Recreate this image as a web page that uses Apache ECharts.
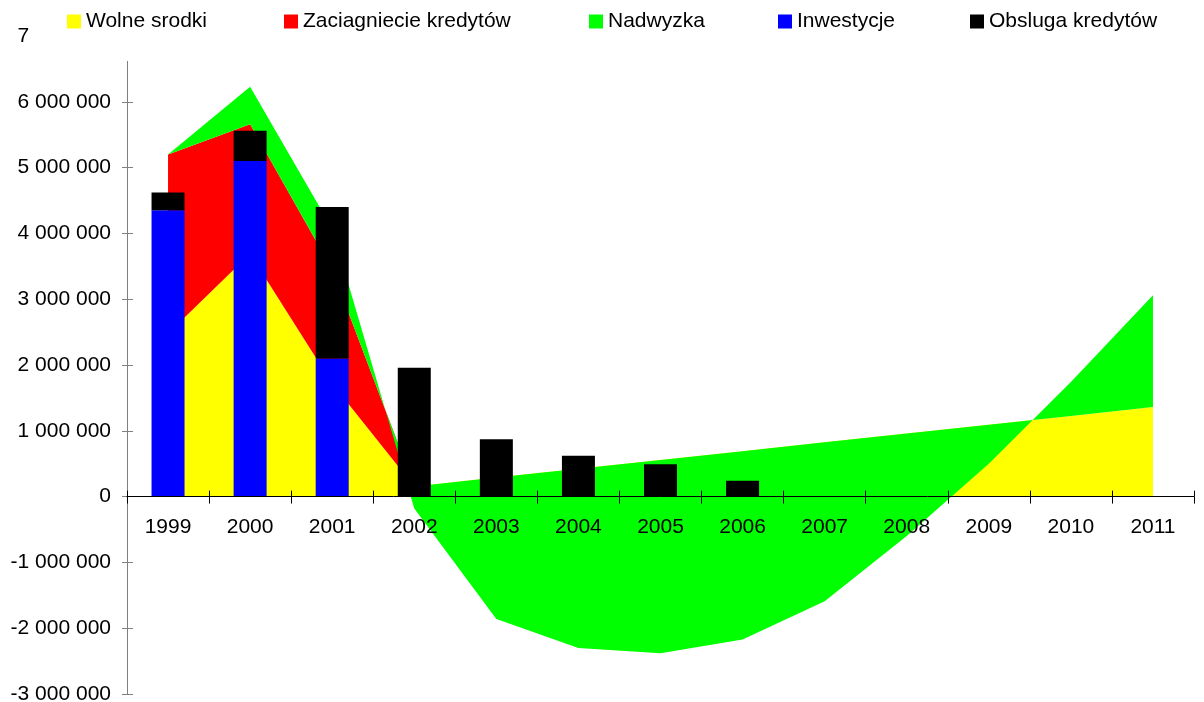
<!DOCTYPE html>
<html>
<head>
<meta charset="utf-8">
<script src="https://cdn.jsdelivr.net/npm/echarts@6/dist/echarts.min.js"></script>
<style>
  html, body { margin: 0; padding: 0; background: #fff; }
  #budgetChart { width: 1204px; height: 702px; }
</style>
</head>
<body>
<div id="budgetChart"></div>
<script>
// dane
const years = ["1999", "2000", "2001", "2002", "2003", "2004", "2005", "2006", "2007", "2008", "2009", "2010", "2011"];
const wolneSrodki = [2480000, 3690000, 1720000, 155000, 289000, 423000, 557000, 691000, 825000, 958000, 1092000, 1226000, 1360000];
const zaciagniecieKredytow = [2720000, 1970000, 1730000, 0, 0, 0, 0, 0, 0, 0, 0, 0, 0];
const nadwyzka = [0, 570000, 620000, -335000, -2149000, -2723000, -2937000, -2861000, -2415000, -1558000, -592000, 514000, 1700000];
const inwestycje = [4350000, 5100000, 2100000, 0, 0, 0, 0, 0, 0, 0, 0, 0, 0];
const obslugaKredytow = [270000, 460000, 2300000, 1960000, 870000, 620000, 490000, 240000, 0, 0, 0, 0, 0];
const yTicks = { min: -3000000, max: 7000000, interval: 1000000 };

const font = "'Liberation Sans', Arial, sans-serif";
const gridTop = 36;
const gridBottom = 8;
const chartHeight = 702;
// os X lezy na zerze osi Y
const zeroOffset = -(chartHeight - gridTop - gridBottom) * (0 - yTicks.min) / (yTicks.max - yTicks.min);

function fmt(v) {
  return String(v).replace(/\B(?=(\d{3})+(?!\d))/g, " ");
}

function areaSeries(name, data, color) {
  return {
    name: name,
    type: "line",
    stack: "area",
    stackStrategy: "all",
    data: data,
    color: color,
    showSymbol: false,
    symbol: "none",
    lineStyle: { width: 0, opacity: 0 },
    areaStyle: { color: color, opacity: 1 },
    itemStyle: { color: color },
    emphasis: { disabled: true },
    z: 2,
  };
}

function barSeries(name, data, color) {
  return {
    name: name,
    type: "bar",
    stack: "bars",
    barWidth: 33,
    data: data,
    itemStyle: { color: color },
    emphasis: { disabled: true },
    z: 3,
  };
}

function legendAt(name, color, left) {
  return {
    data: [{ name: name, itemStyle: { color: color, opacity: 1, borderWidth: 0 } }],
    left: left,
    top: 11,
    padding: 0,
    icon: "rect",
    itemWidth: 14,
    itemHeight: 14,
    itemGap: 5,
    selectedMode: false,
    z: 60,
    textStyle: { fontFamily: font, fontSize: 21, color: "#000" },
  };
}

let chart = echarts.init(document.getElementById("budgetChart"));

let option = {
  animation: false,
  backgroundColor: "#fff",
  textStyle: { fontFamily: font },
  // biale tlo legendy zaslania gorny koniec osi
  graphic: [
    {
      type: "rect",
      shape: { x: 29, y: 0, width: 1150, height: 61 },
      style: { fill: "#fff" },
      z: 50,
      silent: true,
    },
  ],
  legend: [
    legendAt("Wolne srodki", "#ffff00", 67),
    legendAt("Zaciagniecie kredytów", "#ff0000", 284),
    legendAt("Nadwyzka", "#00ff00", 589),
    legendAt("Inwestycje", "#0000ff", 778),
    legendAt("Obsluga kredytów", "#000000", 970),
  ],
  grid: {
    left: 127,
    right: 10,
    top: gridTop,
    bottom: gridBottom,
    containLabel: false,
    outerBoundsMode: "none",
  },
  xAxis: [
    {
      type: "category",
      data: years,
      position: "bottom",
      offset: zeroOffset,
      boundaryGap: true,
      z: 10,
      axisLine: { onZero: false, lineStyle: { color: "#000", width: 1 } },
      axisTick: { show: true, length: 7, lineStyle: { color: "#000" } },
      axisLabel: { show: true, interval: 0, fontFamily: font, fontSize: 21, color: "#000", margin: 20 },
      splitLine: { show: false },
    },
    {
      // druga os tylko po to, by kreski przecinaly os
      type: "category",
      data: years,
      position: "bottom",
      offset: zeroOffset,
      boundaryGap: true,
      z: 10,
      axisLine: { show: false, onZero: false },
      axisTick: { show: true, inside: true, length: 6, lineStyle: { color: "#000" } },
      axisLabel: { show: false },
      splitLine: { show: false },
    },
  ],
  yAxis: [
    {
      type: "value",
      min: yTicks.min,
      max: yTicks.max,
      interval: yTicks.interval,
      position: "left",
      axisLine: { show: true, lineStyle: { color: "#808080", width: 1 } },
      axisTick: { show: true, length: 5, lineStyle: { color: "#808080" } },
      axisLabel: {
        fontFamily: font,
        fontSize: 21,
        color: "#000",
        margin: 16,
        formatter: fmt,
      },
      splitLine: { show: false },
    },
    {
      type: "value",
      min: yTicks.min,
      max: yTicks.max,
      interval: yTicks.interval,
      position: "left",
      axisLine: { show: false },
      axisTick: { show: true, inside: true, length: 6, lineStyle: { color: "#808080" } },
      axisLabel: { show: false },
      splitLine: { show: false },
    },
  ],
  series: [
    areaSeries("Wolne srodki", wolneSrodki, "#ffff00"),
    areaSeries("Zaciagniecie kredytów", zaciagniecieKredytow, "#ff0000"),
    areaSeries("Nadwyzka", nadwyzka, "#00ff00"),
    barSeries("Inwestycje", inwestycje, "#0000ff"),
    barSeries("Obsluga kredytów", obslugaKredytow, "#000000"),
  ],
};

chart.setOption(option);
</script>
</body>
</html>
